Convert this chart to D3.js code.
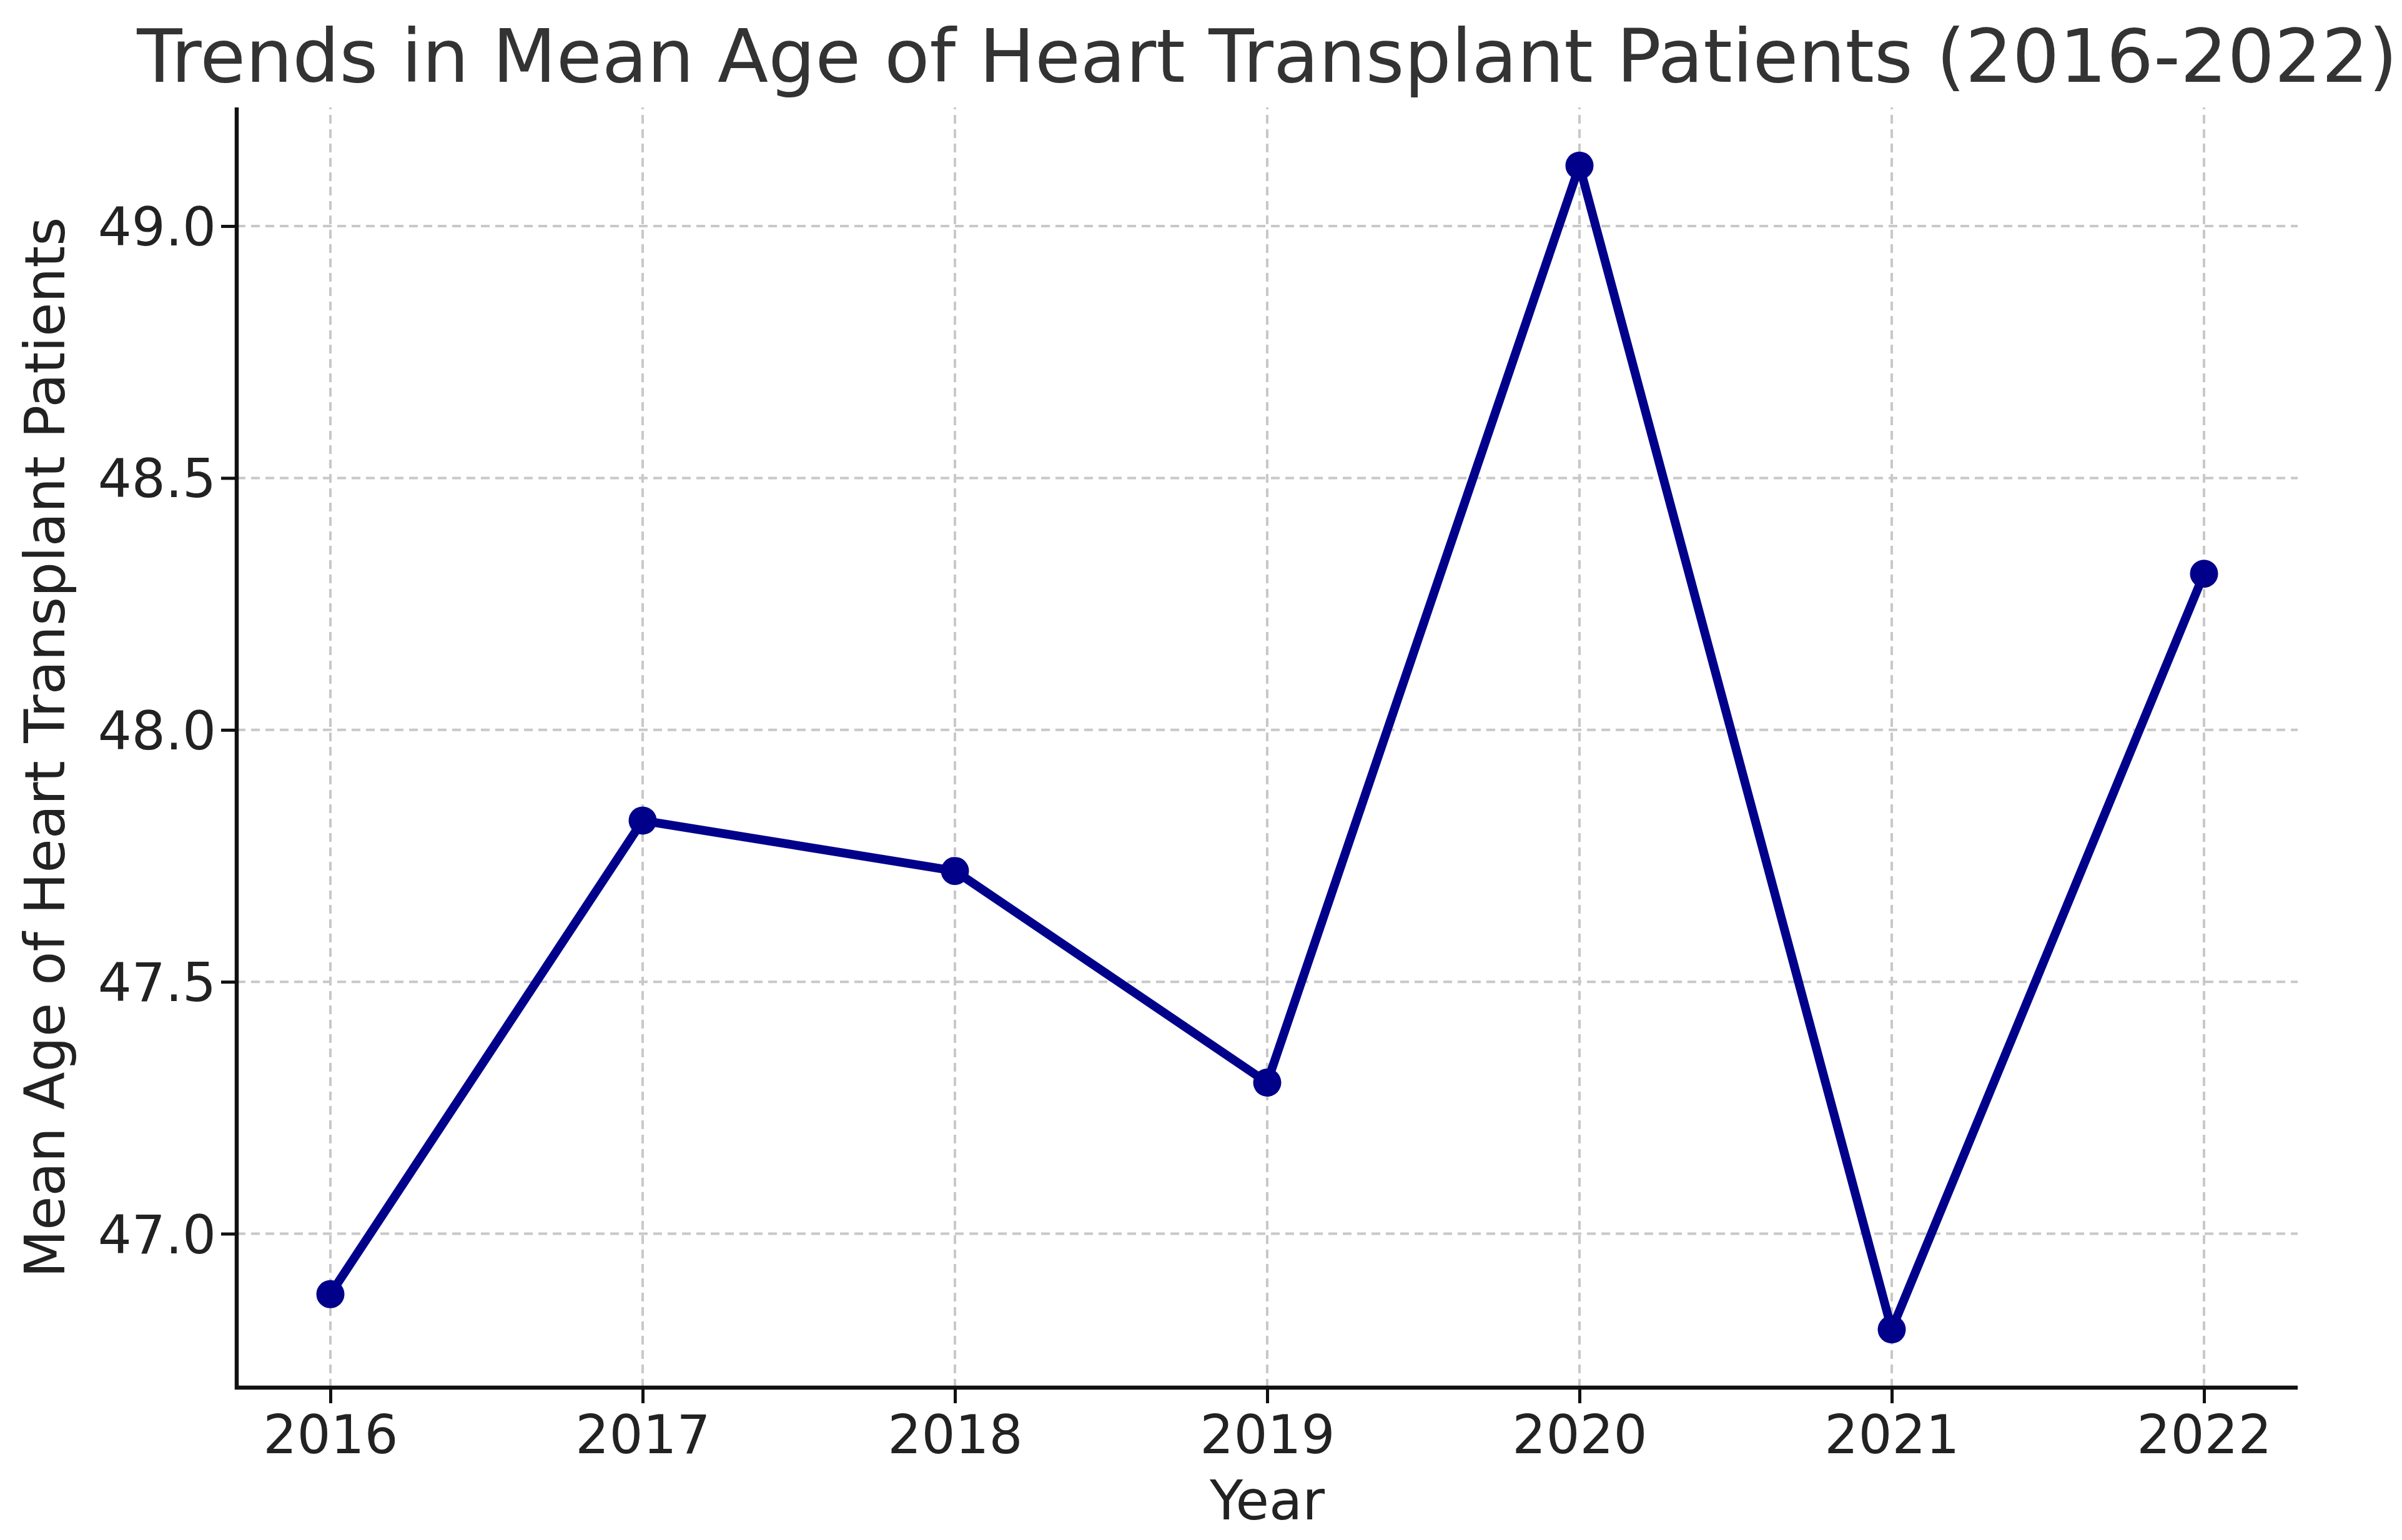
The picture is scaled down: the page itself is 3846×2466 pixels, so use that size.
<!DOCTYPE html>
<html>
<head>
<meta charset="utf-8">
<script src="https://cdn.jsdelivr.net/npm/d3@7"></script>
<style>
  html, body { margin: 0; padding: 0; background: #fff; }
  svg { display: block; font-family: "DejaVu Sans", sans-serif; }
  .grid line { stroke: #c8c8c8; stroke-width: 4; stroke-dasharray: 14 9; }
  .tick-label { fill: #222; font-size: 85px; }
</style>
</head>
<body>
<script>
const years = [2016, 2017, 2018, 2019, 2020, 2021, 2022];
const meanAge = [46.88, 47.82, 47.72, 47.30, 49.12, 46.81, 48.31];
const yTicks = [47.0, 47.5, 48.0, 48.5, 49.0];

const width = 3846;
const height = 2466;
const margin = { left: 379, right: width - 3679, top: 172, bottom: height - 2222 };

const svg = d3.select("body").append("svg")
  .attr("width", width)
  .attr("height", height);

// matplotlib-like 5% padding around the data
const xExt = d3.extent(years);
const yExt = d3.extent(meanAge);
const xPad = (xExt[1] - xExt[0]) * 0.05;
const yPad = (yExt[1] - yExt[0]) * 0.05;

const x = d3.scaleLinear()
  .domain([xExt[0] - xPad, xExt[1] + xPad])
  .range([margin.left, width - margin.right]);
const y = d3.scaleLinear()
  .domain([yExt[0] - yPad, yExt[1] + yPad])
  .range([height - margin.bottom, margin.top]);

const x0 = margin.left, x1 = width - margin.right;
const y0 = height - margin.bottom, y1 = margin.top;

// grid
const grid = svg.append("g").attr("class", "grid");
grid.selectAll("line.v").data(years).join("line")
  .attr("class", "v")
  .attr("x1", d => x(d)).attr("x2", d => x(d))
  .attr("y1", y0).attr("y2", y1);
grid.selectAll("line.h").data(yTicks).join("line")
  .attr("class", "h")
  .attr("x1", x0).attr("x2", x1)
  .attr("y1", d => y(d)).attr("y2", d => y(d));

// line + markers
const line = d3.line()
  .x((d, i) => x(years[i]))
  .y(d => y(d));

svg.append("path")
  .datum(meanAge)
  .attr("d", line)
  .attr("fill", "none")
  .attr("stroke", "#00008b")
  .attr("stroke-width", 14)
  .attr("stroke-linejoin", "round")
  .attr("stroke-linecap", "butt");

svg.append("g").selectAll("circle").data(meanAge).join("circle")
  .attr("cx", (d, i) => x(years[i]))
  .attr("cy", d => y(d))
  .attr("r", 22.5)
  .attr("fill", "#00008b");

// axes
const xAxis = d3.axisBottom(x).tickValues(years).tickFormat(d3.format("d")).tickSize(25).tickPadding(20);
const yAxis = d3.axisLeft(y).tickValues(yTicks).tickFormat(d3.format(".1f")).tickSize(25).tickPadding(8);

const gx = svg.append("g").attr("transform", `translate(0,${y0})`).call(xAxis);
const gy = svg.append("g").attr("transform", `translate(${x0},0)`).call(yAxis);

[gx, gy].forEach(g => {
  g.select(".domain").remove();
  g.selectAll(".tick line").attr("stroke", "#111").attr("stroke-width", 5);
  g.selectAll(".tick text")
    .attr("class", "tick-label")
    .attr("font-family", "DejaVu Sans, sans-serif");
});
gx.selectAll(".tick text").attr("dy", "0.71em");
gy.selectAll(".tick text").attr("dy", "0.36em");

// spines (left and bottom only)
svg.append("line")
  .attr("x1", x0).attr("x2", x0).attr("y1", y1).attr("y2", y0 + 3)
  .attr("stroke", "#111").attr("stroke-width", 6.5);
svg.append("line")
  .attr("x1", x0 - 3).attr("x2", x1).attr("y1", y0).attr("y2", y0)
  .attr("stroke", "#111").attr("stroke-width", 6.5);

// labels
svg.append("text")
  .attr("x", (x0 + x1) / 2)
  .attr("y", 131)
  .attr("text-anchor", "middle")
  .attr("fill", "#333")
  .attr("font-size", 118.5)
  .text("Trends in Mean Age of Heart Transplant Patients (2016-2022)");

svg.append("text")
  .attr("x", (x0 + x1) / 2)
  .attr("y", 2433)
  .attr("text-anchor", "middle")
  .attr("fill", "#222")
  .attr("font-size", 87)
  .text("Year");

svg.append("text")
  .attr("transform", `translate(103,${(y0 + y1) / 2}) rotate(-90)`)
  .attr("text-anchor", "middle")
  .attr("fill", "#222")
  .attr("font-size", 88.5)
  .text("Mean Age of Heart Transplant Patients");
</script>
</body>
</html>
